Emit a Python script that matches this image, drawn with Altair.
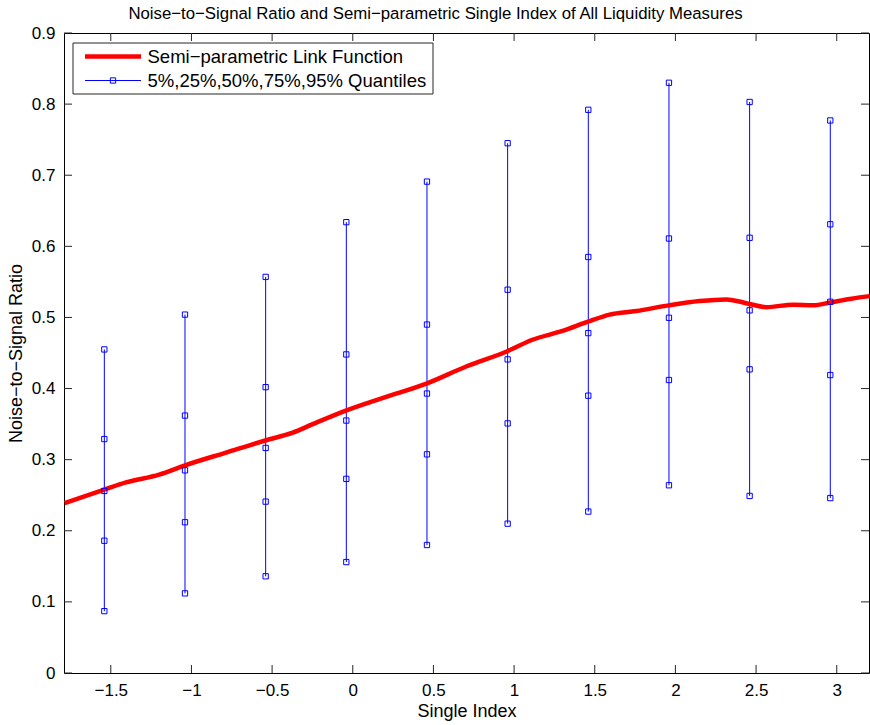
import altair as alt
import pandas as pd

# ---- data ----
link_x = [-1.786, -1.54, -1.406, -1.20, -1.04, -0.785, -0.542, -0.372, -0.248, -0.043,
          0.188, 0.457, 0.703, 0.958, 1.118, 1.30, 1.458, 1.592, 1.758, 1.958,
          2.150, 2.316, 2.459, 2.564, 2.730, 2.854, 2.959, 3.081, 3.205]
link_y = [0.239, 0.258, 0.268, 0.279, 0.292, 0.310, 0.327, 0.338, 0.350, 0.369,
          0.387, 0.407, 0.431, 0.4525, 0.469, 0.481, 0.494, 0.504, 0.509, 0.517,
          0.523, 0.5254, 0.519, 0.5145, 0.518, 0.517, 0.521, 0.526, 0.530]

q_x = [-1.54, -1.04, -0.54, -0.04, 0.46, 0.96, 1.46, 1.96, 2.46, 2.96]
q05 = [0.087, 0.112, 0.136, 0.156, 0.180, 0.210, 0.227, 0.264, 0.249, 0.246]
q25 = [0.186, 0.212, 0.241, 0.273, 0.3075, 0.351, 0.390, 0.412, 0.427, 0.419]
q50 = [0.256, 0.285, 0.3165, 0.355, 0.393, 0.441, 0.478, 0.4995, 0.510, 0.522]
q75 = [0.329, 0.362, 0.402, 0.448, 0.490, 0.539, 0.585, 0.611, 0.612, 0.631]
q95 = [0.455, 0.504, 0.557, 0.634, 0.691, 0.745, 0.792, 0.830, 0.803, 0.777]

x_ticks = [-1.5, -1, -0.5, 0, 0.5, 1, 1.5, 2, 2.5, 3]
y_ticks = [0, 0.1, 0.2, 0.3, 0.4, 0.5, 0.6, 0.7, 0.8, 0.9]

title_text = "Noise\u2212to\u2212Signal Ratio and Semi\u2212parametric Single Index of All Liquidity Measures"
x_title = "Single Index"
y_title = "Noise\u2212to\u2212Signal Ratio"
legend_labels = ["Semi\u2212parametric Link Function", "5%,25%,50%,75%,95% Quantiles"]

# ---- tables ----
link_df = pd.DataFrame({"x": link_x, "y": link_y})
range_df = pd.DataFrame({"x": q_x, "y": q05, "y2": q95})
pts = []
for arr in (q05, q25, q50, q75, q95):
    for xv, yv in zip(q_x, arr):
        pts.append({"x": xv, "y": yv})
pts_df = pd.DataFrame(pts)
xt_df = pd.DataFrame({"x": x_ticks})
yt_df = pd.DataFrame({"y": y_ticks})
one = pd.DataFrame({"a": [0]})

W, H = 805, 640
FONT = "Liberation Sans"
BLUE = "#0000ff"
TICKC = "#262626"

xscale = alt.Scale(domain=[-1.79, 3.2], nice=False, zero=False)
yscale = alt.Scale(domain=[0, 0.9], nice=False, zero=False)
xaxis = alt.Axis(values=x_ticks, format="~g", title=x_title, ticks=False, domain=False,
                 grid=False, labelPadding=9, labelFontSize=17, titleFontSize=18,
                 titlePadding=4, titleFontWeight="normal", labelFont=FONT, titleFont=FONT,
                 labelColor="black", titleColor="black")
yaxis = alt.Axis(values=y_ticks, format="~g", title=y_title, ticks=False, domain=False,
                 grid=False, labelPadding=9, labelFontSize=17, titleFontSize=18,
                 titlePadding=6, titleFontWeight="normal", labelFont=FONT, titleFont=FONT,
                 labelColor="black", titleColor="black")

X = alt.X("x:Q", scale=xscale, axis=xaxis)
Y = alt.Y("y:Q", scale=yscale, axis=yaxis)

rules = alt.Chart(range_df).mark_rule(color=BLUE, strokeWidth=1).encode(
    x=X, y=Y, y2="y2:Q")
link = alt.Chart(link_df).mark_line(color="#ff0000", strokeWidth=4.5,
                                     interpolate="monotone").encode(x=X, y=Y)
points = alt.Chart(pts_df).mark_point(shape="square", filled=False, size=28,
                                      color=BLUE, strokeWidth=1, opacity=1).encode(x=X, y=Y)

tick_len = 8
xt_bot = alt.Chart(xt_df).mark_rule(color=TICKC, strokeWidth=1).encode(
    x=X, y=alt.value(H), y2=alt.value(H - tick_len))
xt_top = alt.Chart(xt_df).mark_rule(color=TICKC, strokeWidth=1).encode(
    x=X, y=alt.value(0), y2=alt.value(tick_len))
yt_left = alt.Chart(yt_df).mark_rule(color=TICKC, strokeWidth=1).encode(
    y=Y, x=alt.value(0), x2=alt.value(tick_len))
yt_right = alt.Chart(yt_df).mark_rule(color=TICKC, strokeWidth=1).encode(
    y=Y, x=alt.value(W), x2=alt.value(W - tick_len))

# ---- legend (layout only) ----
lg_box = alt.Chart(one).mark_rect(fill="white", stroke="#262626", strokeWidth=1).encode(
    x=alt.value(9), x2=alt.value(369), y=alt.value(10), y2=alt.value(61))
lg_red = alt.Chart(one).mark_rule(color="#ff0000", strokeWidth=4.5).encode(
    x=alt.value(21), x2=alt.value(77), y=alt.value(23.5))
lg_blue = alt.Chart(one).mark_rule(color=BLUE, strokeWidth=1).encode(
    x=alt.value(21), x2=alt.value(77), y=alt.value(47.5))
lg_mark = alt.Chart(one).mark_point(shape="square", filled=False, size=28, color=BLUE,
                                    strokeWidth=1, opacity=1).encode(
    x=alt.value(49), y=alt.value(47.5))
lg_t1 = alt.Chart(one).mark_text(align="left", baseline="middle", fontSize=18.5,
                                 font=FONT, color="black").encode(
    x=alt.value(83.5), y=alt.value(24), text=alt.value(legend_labels[0]))
lg_t2 = alt.Chart(one).mark_text(align="left", baseline="middle", fontSize=18.5,
                                 font=FONT, color="black").encode(
    x=alt.value(83.5), y=alt.value(48), text=alt.value(legend_labels[1]))

chart = alt.layer(
    rules, link, points, xt_bot, xt_top, yt_left, yt_right,
    lg_box, lg_red, lg_blue, lg_mark, lg_t1, lg_t2
).properties(
    width=W, height=H,
    title=alt.TitleParams(title_text, fontSize=16.8, font=FONT, fontWeight="normal",
                          color="black", anchor="middle", frame="group", dx=-31, dy=9,
                          offset=10),
    autosize=alt.AutoSizeParams(type="none"),
    padding={"left": 64, "top": 33, "right": 1, "bottom": 52},
    background="white",
).configure_view(stroke="black", strokeWidth=1)

chart.save("out.html", embed_options={"renderer": "svg", "actions": False})
